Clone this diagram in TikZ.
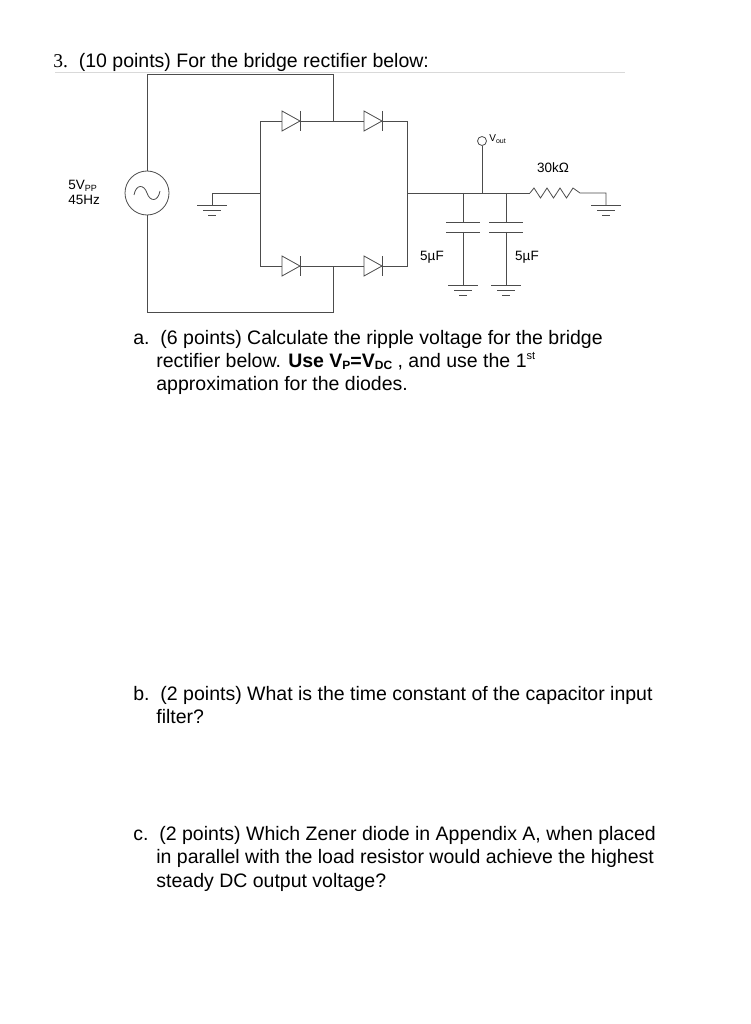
\documentclass[tikz,border=0pt]{standalone}
\usepackage{fontspec}
\setmainfont{Liberation Sans}
\newfontfamily\serifx{Liberation Serif}
\begin{document}
\begin{tikzpicture}[x=1pt,y=-1pt,line width=0.8pt,
  w/.style={draw=black!70},
  txt/.style={anchor=base west,inner sep=0,font=\fontsize{19.5}{23}\selectfont},
  lbl/.style={inner sep=0,font=\fontsize{13.5}{15}\selectfont}]
\useasboundingbox (0,0) rectangle (750,1024);
\fill[white] (0,0) rectangle (750,1024);
% title
\node[txt] (t) at (53,68) {{\serifx 3.}\ \ (10 points) For the bridge rectifier below:};
\draw[black!15,line width=0.6pt] (55,72) -- (625,72);
\tikzset{diode/.pic={\draw[black!70,fill=white] (-9,-10) -- (-9,10) -- (9,0) -- cycle; \draw[black!70] (9,-10) -- (9,10);}}
\coordinate (TL) at (260,121); \coordinate (TR) at (407,121);
\coordinate (BL) at (260,266); \coordinate (BR) at (407,266);
\coordinate (TM) at (333,121); \coordinate (BM) at (333,266);
\draw[w] (TL) -- (TR) -- (BR) -- (BL) -- cycle;
\pic at (291,121) {diode}; \pic at (373,121) {diode};
\pic at (291,266) {diode}; \pic at (373,266) {diode};
% source loop
\node[circle,draw=black!70,minimum size=44pt,inner sep=0] (S) at (147,193) {};
\draw[black!70] (134,195) .. controls (136,184) and (144,184) .. (147,193) .. controls (150,202) and (158,202) .. (160,191);
\draw[w] (S.north) -- (147,74) -- (333,74) -- (TM);
\draw[w] (S.south) -- (147,312) -- (333,312) -- (BM);
\node[lbl,anchor=base west] (sl1) at (68,190) {5V\raisebox{-0.2ex}{\fontsize{9}{10}\selectfont PP}};
\node[lbl,anchor=base west] (sl2) at (68,205) {45Hz};
\tikzset{gnd/.pic={\draw[black!70] (-15,0) -- (15,0) (-9,5) -- (9,5) (-4,10) -- (4,10);}}
\coordinate (GL) at (212,193);
\draw[w] (260,193) -- (GL) -- (212,205);
\pic at (212,205) {gnd};
% output
\draw[w] (407,193) -- (530,193);
\draw[black!70] (530,193) -- (534,188) -- (540.5,198) -- (547,188) -- (553.5,198) -- (560,188) -- (566.5,198) -- (573,188) -- (580,193) -- (606,193) -- (606,205);
\pic at (606,205) {gnd};
\node[lbl,anchor=base] (R) at (553,173) {30kΩ};
\foreach \cx in {463,506}{
  \draw[w] (\cx,193) -- (\cx,222) (\cx-17,222) -- (\cx+17,222) (\cx-17,232) -- (\cx+17,232) (\cx,232) -- (\cx,285);
  \pic at (\cx,285) {gnd};}
\node[lbl,anchor=base] (c1) at (432,260) {5µF};
\node[lbl,anchor=base] (c2) at (527,260) {5µF};
\node[circle,draw=black!70,minimum size=9pt,inner sep=0] (V) at (482,141) {};
\draw[w] (482,193) -- (V.south);
\node[anchor=base west,inner sep=0,font=\fontsize{10}{11}\selectfont] (vl) at (489,142) {V\raisebox{-0.3ex}{\fontsize{7}{8}\selectfont out}};
% questions
\node[txt] (a) at (133,344) {a.\ \ (6 points) Calculate the ripple voltage for the bridge};
\node[txt] (a2) at (133,367) {\hspace{23pt}rectifier below. \textbf{Use V\raisebox{-0.2ex}{\fontsize{12}{13}\selectfont P}=V\raisebox{-0.2ex}{\fontsize{12}{13}\selectfont DC}} , and use the 1\raisebox{0.7ex}{\fontsize{11}{12}\selectfont st}};
\node[txt] (a3) at (133,390) {\hspace{23pt}approximation for the diodes.};
\node[txt] (b) at (133,700) {b.\ \ (2 points) What is the time constant of the capacitor input};
\node[txt] (b2) at (133,723) {\hspace{23pt}filter?};
\node[txt] (c) at (133,840) {c.\ \ (2 points) Which Zener diode in Appendix A, when placed};
\node[txt] (c2) at (133,863) {\hspace{23pt}in parallel with the load resistor would achieve the highest};
\node[txt] (c3) at (133,887) {\hspace{23pt}steady DC output voltage?};
\end{tikzpicture}
\end{document}
